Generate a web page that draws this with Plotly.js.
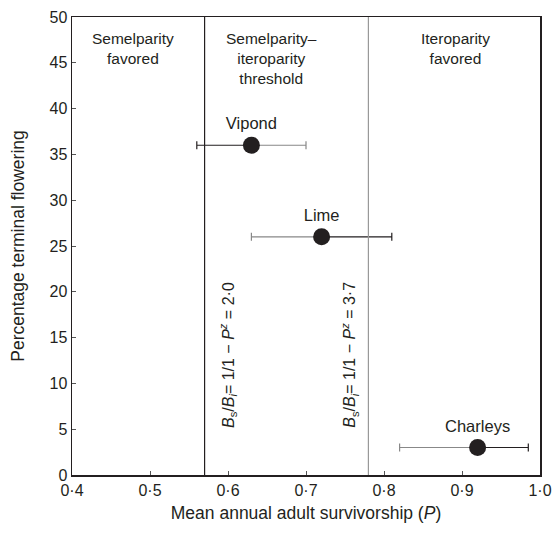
<!DOCTYPE html>
<html><head><meta charset="utf-8">
<script src="https://cdn.plot.ly/plotly-3.0.1.min.js"></script>
<style>html,body{margin:0;padding:0;background:#fff}#c{width:553px;height:538px}</style>
</head><body><div id="c"></div>
<script>
const sites = ["Vipond", "Lime", "Charleys"];
const survivorship = [0.63, 0.72, 0.92];
const terminalFlowering = [36, 26, 3];
const errLow = [0.07, 0.09, 0.10];
const errHigh = [0.07, 0.09, 0.065];
const leftColor = ["#231f20", "#888888", "#888888"];
const rightColor = ["#888888", "#231f20", "#231f20"];
const thresholds = [0.57, 0.78];
const thresholdColors = ["#231f20", "#999999"];
const thresholdLabelX = [0.6, 0.756];
const thresholdLabels = ["<i>B</i><sub>s</sub>/<i>B</i><sub><i>i</i></sub>= 1/1 − <i>P</i><sup><i>z</i></sup> = 2·0",
                         "<i>B</i><sub>s</sub>/<i>B</i><sub><i>i</i></sub>= 1/1 − <i>P</i><sup><i>z</i></sup> = 3·7"];
const regionLabels = ["Semelparity<br>favored", "Semelparity–<br>iteroparity<br>threshold", "Iteroparity<br>favored"];
const regionX = [0.478, 0.656, 0.892];
const xTickVals = [0.4, 0.5, 0.6, 0.7, 0.8, 0.9, 1.0];
const xTickText = ["0·4", "0·5", "0·6", "0·7", "0·8", "0·9", "1·0"];
const yTickVals = [0, 5, 10, 15, 20, 25, 30, 35, 40, 45, 50];

const font = "Liberation Sans, Arial, sans-serif";
const traces = [];
for (let i = 0; i < sites.length; i++) {
  traces.push({
    x: [survivorship[i]], y: [terminalFlowering[i]], type: "scatter", mode: "markers",
    marker: {size: 0.1, color: "rgba(0,0,0,0)"}, hoverinfo: "skip", showlegend: false,
    error_x: {type: "data", symmetric: false, array: [0], arrayminus: [errLow[i]], color: leftColor[i], thickness: 1.2, width: 4}
  });
  traces.push({
    x: [survivorship[i]], y: [terminalFlowering[i]], type: "scatter", mode: "markers",
    marker: {size: 0.1, color: "rgba(0,0,0,0)"}, hoverinfo: "skip", showlegend: false,
    error_x: {type: "data", symmetric: false, array: [errHigh[i]], arrayminus: [0], color: rightColor[i], thickness: 1.2, width: 4}
  });
}
traces.push({
  x: survivorship, y: terminalFlowering, type: "scatter", mode: "markers+text",
  text: sites, textposition: "top center", textfont: {family: font, size: 16.5, color: "#231f20"},
  marker: {size: 17, color: "#231f20"}, showlegend: false
});

const shapes = thresholds.map((t, i) => ({
  type: "line", xref: "x", yref: "y", x0: t, x1: t, y0: 0, y1: 50,
  line: {color: thresholdColors[i], width: 1.2}
}));

const annotations = [];
regionLabels.forEach((t, i) => annotations.push({
  x: regionX[i], y: 48.8, xref: "x", yref: "y", text: t, showarrow: false,
  yanchor: "top", xanchor: "center", font: {family: font, size: 15.5, color: "#231f20"}
}));
thresholds.forEach((t, i) => annotations.push({
  x: thresholdLabelX[i], y: 13.1, xref: "x", yref: "y", text: thresholdLabels[i], showarrow: false,
  textangle: -90, xanchor: "center", yanchor: "middle", font: {family: font, size: 16, color: "#231f20"}
}));

const layout = {
  width: 553, height: 538,
  margin: {l: 72, r: 13, t: 17, b: 63},
  paper_bgcolor: "#fff", plot_bgcolor: "#fff",
  font: {family: font, color: "#231f20"},
  xaxis: {
    range: [0.4, 1.0], tickvals: xTickVals, ticktext: xTickText,
    ticks: "inside", ticklen: 4, tickcolor: "#555", tickwidth: 1,
    showline: true, linecolor: "#231f20", linewidth: 1.5, mirror: true,
    showgrid: false, zeroline: false, tickfont: {family: font, size: 16, color: "#231f20"},
    title: {text: "Mean annual adult survivorship (<i>P</i>)", font: {family: font, size: 17.5, color: "#231f20"}, standoff: 9}
  },
  yaxis: {
    range: [0, 50], tickvals: yTickVals,
    ticks: "inside", ticklen: 4, tickcolor: "#555", tickwidth: 1,
    showline: true, linecolor: "#231f20", linewidth: 1.5, mirror: true,
    showgrid: false, zeroline: false, tickfont: {family: font, size: 16, color: "#231f20"},
    title: {text: "Percentage terminal flowering", font: {family: font, size: 17.5, color: "#231f20"}, standoff: 20}
  },
  shapes: shapes, annotations: annotations
};
Plotly.newPlot("c", traces, layout, {displayModeBar: false, staticPlot: true});
</script></body></html>
